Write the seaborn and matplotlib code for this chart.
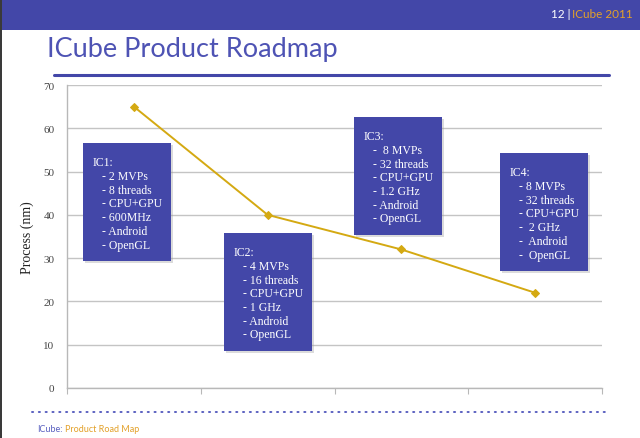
"""
ICube product roadmap slide: process node per generation
"""

import matplotlib
matplotlib.use("Agg")
import matplotlib.pyplot as plt
from matplotlib.patches import Rectangle
from matplotlib.lines import Line2D
import seaborn as sns
import pandas as pd

# Data
products = ["IC1", "IC2", "IC3", "IC4"]
process_nm = [65, 40, 32, 22]
specs = {
    "IC1": ["- 2 MVPs", "- 8 threads", "- CPU+GPU", "- 600MHz", "- Android", "- OpenGL"],
    "IC2": ["- 4 MVPs", "- 16 threads", "- CPU+GPU", "- 1 GHz", "- Android", "- OpenGL"],
    "IC3": ["-  8 MVPs", "- 32 threads", "- CPU+GPU", "- 1.2 GHz", "- Android", "- OpenGL"],
    "IC4": ["- 8 MVPs", "- 32 threads", "- CPU+GPU", "-  2 GHz", "-  Android", "-  OpenGL"],
}
y_ticks = [0, 10, 20, 30, 40, 50, 60, 70]

# Box placement on the slide (pixels, left/top)
box_pos = {"IC1": (83, 144), "IC2": (224, 234), "IC3": (354, 118), "IC4": (500, 154)}
BOX_W, BOX_H = 88, 118

W, H = 640, 439
BLUE = "#4347A8"
GOLD = "#D4A912"
ORANGE = "#E3A12A"

sns.set_style("white")
plt.rcParams["font.family"] = ["Liberation Serif", "DejaVu Serif"]

fig = plt.figure(figsize=(W / 100, H / 100), dpi=100)


def fx(px):
    return px / W


def fy(py):
    return 1 - py / H


# Chart
ax = fig.add_axes([fx(67), fy(389), fx(602) - fx(67), fy(86) - fy(389)])
df = pd.DataFrame({"product": products, "process": process_nm})
sns.lineplot(data=df, x="product", y="process", ax=ax, color=GOLD, lw=1.4,
             marker="D", markersize=4, markeredgecolor=GOLD, sort=False)
ax.set_xlim(-0.5, len(products) - 0.5)
ax.set_ylim(0, 70)
ax.set_yticks(y_ticks)
ax.set_xticks([i - 0.5 for i in range(len(products) + 1)])
ax.set_xticklabels([])
ax.set_xlabel("")
ax.set_ylabel("Process (nm)", fontsize=10, color="#222222", labelpad=7)
ax.yaxis.grid(True, color="#C4C4C4", lw=1)
ax.set_axisbelow(True)
for s in ["top", "right"]:
    ax.spines[s].set_visible(False)
for s in ["left", "bottom"]:
    ax.spines[s].set_color("#B8B8B8")
    ax.spines[s].set_linewidth(1)
ax.tick_params(axis="y", length=0, labelsize=8, labelcolor="#444444", pad=9)
ax.tick_params(axis="x", length=4, color="#B8B8B8", direction="out", bottom=True)

# Spec boxes
for name in products:
    bx, by = box_pos[name]
    fig.patches.append(Rectangle((fx(bx + 2), fy(by + BOX_H + 2)), BOX_W / W, BOX_H / H,
                                 transform=fig.transFigure, facecolor="#9a9a9a",
                                 alpha=0.35, edgecolor="none", zorder=4))
    fig.patches.append(Rectangle((fx(bx), fy(by + BOX_H)), BOX_W / W, BOX_H / H,
                                 transform=fig.transFigure, facecolor=BLUE,
                                 edgecolor="none", zorder=5))
    fig.text(fx(bx + 10), fy(by + 19), name + ":", color="white", fontsize=8.5,
             va="center", ha="left", zorder=6)
    for i, item in enumerate(specs[name]):
        fig.text(fx(bx + 19), fy(by + 33 + i * 13.7), item, color="white",
                 fontsize=8.5, va="center", ha="left", zorder=6)

# Slide header
fig.patches.append(Rectangle((0, fy(31)), 1, 31 / H, transform=fig.transFigure,
                             facecolor=BLUE, edgecolor="none", zorder=1))
fig.text(fx(633), fy(14), "ICube 2011", color=ORANGE, fontsize=8.5, ha="right",
         va="center", family=["Lato", "DejaVu Sans"])
fig.text(fx(571), fy(14), "12 |", color="white", fontsize=8.5, ha="right",
         va="center", family=["Lato", "DejaVu Sans"])

fig.text(fx(47), fy(49), "ICube Product Roadmap", color="#4E53B4", fontsize=19.5,
         ha="left", va="center", family=["Lato", "DejaVu Sans"])
fig.lines.append(Line2D([fx(54), fx(609)], [fy(76), fy(76)], transform=fig.transFigure,
                        color=BLUE, lw=2.2))

# Footer
fig.lines.append(Line2D([fx(32), fx(605)], [fy(413), fy(413)], transform=fig.transFigure,
                        color="#5a60c0", lw=1.4, linestyle=(0, (0.6, 2.9)),
                        dash_capstyle="round"))
fig.text(fx(37), fy(430), "ICube:", color="#5a60c0", fontsize=6.5, ha="left",
         va="center", family=["Lato", "DejaVu Sans"])
fig.text(fx(65), fy(430), "Product Road Map", color=ORANGE, fontsize=6.5, ha="left",
         va="center", family=["Lato", "DejaVu Sans"])

# Left frame edge
fig.patches.append(Rectangle((0, 0), 2 / W, 1, transform=fig.transFigure,
                             facecolor="#3a3a3a", edgecolor="none", zorder=7))

fig.savefig("out.png", dpi=100)
